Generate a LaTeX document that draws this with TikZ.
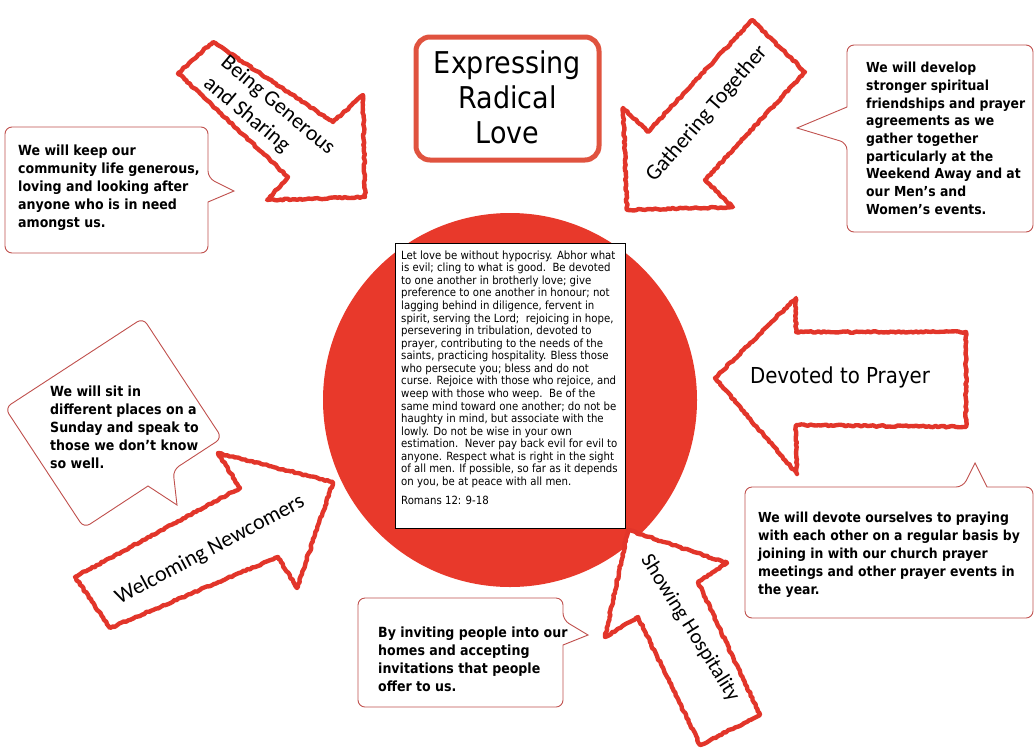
\documentclass[tikz,border=0pt]{standalone}
\usepackage{fontspec}
\setmainfont{DejaVu Sans Condensed}
\newfontfamily\calib{Carlito}
\usetikzlibrary{decorations.pathmorphing}
\definecolor{arrred}{HTML}{E2352A}
\definecolor{circred}{HTML}{E8392B}
\definecolor{calred}{HTML}{C0504D}
\definecolor{titred}{HTML}{E0533F}
\begin{document}
\begin{tikzpicture}[x=1pt,y=-1pt,
  sketch/.style={draw=arrred, line width=4.4pt, line join=round, fill=white,
     decorate, decoration={random steps,segment length=2.5pt,amplitude=0.8pt}},
  callout/.style={draw=calred, line width=0.9pt, fill=white, line join=miter},
  ctext/.style={font=\fontsize{14}{18}\selectfont\bfseries, align=left, anchor=north west, inner sep=0pt},
  alabel/.style={font=\calib\fontsize{22}{27}\selectfont, inner sep=0pt, align=center},
]
\useasboundingbox[fill=white] (0,0) rectangle (1035,750);

% central circle and verse
\fill[circred] (510,400) circle (187);
\node[draw=black, line width=0.8pt, fill=white, minimum width=230pt, minimum height=285pt, inner sep=0pt] (verse) at (510,385.5) {};
\node[anchor=north west, inner sep=0pt, align=left, font=\fontsize{11.3}{12.56}\selectfont] (versetext) at (401,250.5) {Let love be without hypocrisy. Abhor what\\
is evil; cling to what is good.\ \ Be devoted\\
to one another in brotherly love; give\\
preference to one another in honour; not\\
lagging behind in diligence, fervent in\\
spirit, serving the Lord;\ \ rejoicing in hope,\\
persevering in tribulation, devoted to\\
prayer, contributing to the needs of the\\
saints, practicing hospitality. Bless those\\
who persecute you; bless and do not\\
curse. Rejoice with those who rejoice, and\\
weep with those who weep.\ \ Be of the\\
same mind toward one another; do not be\\
haughty in mind, but associate with the\\
lowly. Do not be wise in your own\\
estimation.\ \ Never pay back evil for evil to\\
anyone. Respect what is right in the sight\\
of all men. If possible, so far as it depends\\
on you, be at peace with all men.\\[6.5pt]
Romans 12: 9-18};

% title
\node[draw=titred, line width=5pt, rounded corners=14pt, fill=white, minimum width=183pt, minimum height=123pt, inner sep=0pt] (titlebox) at (507.5,98.5) {};
\node[inner sep=0pt, align=center, font=\fontsize{30}{35}\selectfont] (title) at (507.5,97) {Expressing\\Radical\\Love};

% arrows
\draw[sketch] (178,73) -- (213,42) -- (333,122) -- (363,95) -- (365,197) -- (267,200) -- (288,177) -- cycle;
\node[alabel, align=left, rotate=-40] (generous) at (269,116) {Being Generous\\and Sharing};

\draw[sketch] (752,20) -- (805,72) -- (705,180) -- (733,207) -- (627,210) -- (623,108) -- (648,132) -- cycle;
\node[alabel, rotate=49] (gathering) at (707,114) {Gathering Together};

\draw[sketch] (715,378) -- (796,298) -- (796,332) -- (966,332) -- (966,427) -- (796,425) -- (797,474) -- cycle;
\node[inner sep=0pt, font=\fontsize{22}{26}\selectfont] (prayer) at (840,377) {Devoted to Prayer};

\draw[sketch] (628,530) -- (727,563) -- (698,582) -- (760,715) -- (700,745) -- (638,617) -- (605,637) -- cycle;
\node[alabel, font=\calib\fontsize{21}{25}\selectfont, rotate=-58] (hospitality) at (690,628) {Showing Hospitality};

\draw[sketch] (75,577) -- (240,488) -- (218,453) -- (333,482) -- (297,588) -- (278,557) -- (110,628) -- cycle;
\node[alabel, font=\calib\fontsize{22}{26}\selectfont, rotate=28] (welcoming) at (210,550) {Welcoming Newcomers};

% callouts
\draw[callout, rounded corners=7pt] (100,127) -- (208,127) -- (208,178) [sharp corners] -- (234,191) -- (208,202) [rounded corners=7pt] -- (208,253) -- (5,253) -- (5,127) -- cycle;
\node[ctext] (c1) at (18,145) {We will keep our\\community life generous,\\loving and looking after\\anyone who is in need\\amongst us.};

\draw[callout, rounded corners=7pt] (940,45) -- (1033,45) -- (1033,232) -- (847,232) -- (847,143) [sharp corners] -- (797,128) -- (847,107) [rounded corners=7pt] -- (847,45) -- cycle;
\node[ctext, font=\fontsize{13.8}{17.7}\selectfont\bfseries] (c2) at (866,62) {We will develop\\stronger spiritual\\friendships and prayer\\agreements as we\\gather together\\particularly at the\\Weekend Away and at\\our Men’s and\\Women’s events.};

\draw[callout, rounded corners=7pt] (860,487) -- (963,487) [sharp corners] -- (975,463) -- (987,487) [rounded corners=7pt] -- (1033,487) -- (1033,618) -- (745,618) -- (745,487) -- cycle;
\node[ctext, font=\fontsize{13.8}{18}\selectfont\bfseries] (c3) at (758,512) {We will devote ourselves to praying\\with each other on a regular basis by\\joining in with our church prayer\\meetings and other prayer events in\\the year.};

\draw[callout, rounded corners=7pt] (450,598) -- (563,598) -- (563,620) [sharp corners] -- (588,635) -- (563,645) [rounded corners=7pt] -- (563,707) -- (358,707) -- (358,598) -- cycle;
\node[ctext] (c4) at (378,627) {By inviting people into our\\homes and accepting\\invitations that people\\offer to us.};

\draw[callout, rounded corners=7pt] (74,363) -- (143,318) -- (222,438) -- (173,470) [sharp corners] -- (177,505) -- (148,486) [rounded corners=7pt] -- (84,528) -- (5,408) -- cycle;
\node[ctext] (c5) at (50,386) {We will sit in\\different places on a\\Sunday and speak to\\those we don’t know\\so well.};
\end{tikzpicture}
\end{document}
